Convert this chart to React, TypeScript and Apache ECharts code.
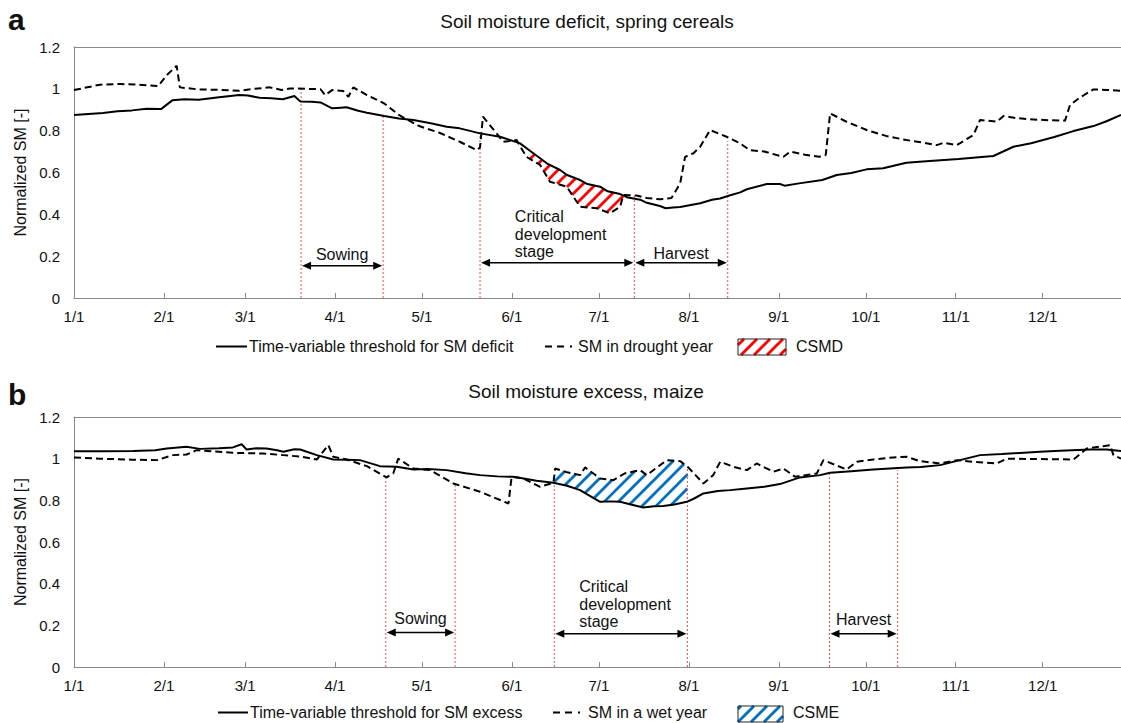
import React, { useEffect, useRef } from "react";
import * as echarts from "echarts";

const FONT = '"Liberation Sans", Arial, Helvetica, sans-serif';
const TEXT = "#111111";
const AXIS = "#8a8a8a";
const RED_DOT = "#ff4a4a";

const MONTH_DAYS = [0, 31, 59, 90, 120, 151, 181, 212, 243, 273, 304, 334];
const MONTH_LABELS = ["1/1", "2/1", "3/1", "4/1", "5/1", "6/1", "7/1", "8/1", "9/1", "10/1", "11/1", "12/1"];
const X_MAX = 361;
const Y_MAX = 1.2;
const Y_STEP = 0.2;

// ---------- Panel a: soil moisture deficit, spring cereals ----------
const THR_A_DAYS = [0, 5, 10, 15, 20, 25, 30, 34, 38, 43, 50, 57, 60, 64, 68, 72, 76, 78, 82, 85, 89, 92, 94, 98, 101, 107, 112, 117, 123, 128.5, 133, 140, 146.9, 151.5, 153.8, 157.2, 160.7, 163, 167.6, 170, 174.5, 177, 181.4, 184, 188.3, 190.6, 195.2, 197.5, 202, 204, 206.6, 209, 215.9, 220, 222.8, 226, 229.7, 232, 238.9, 243.4, 245, 250, 258, 263, 268, 273.3, 279, 287, 295, 305, 317, 323.9, 330, 338, 344.6, 351.5, 356, 361];
const THR_A_VALUES = [0.875, 0.88, 0.885, 0.893, 0.897, 0.905, 0.903, 0.946, 0.95, 0.948, 0.96, 0.97, 0.968, 0.957, 0.955, 0.95, 0.966, 0.94, 0.938, 0.935, 0.907, 0.91, 0.912, 0.895, 0.886, 0.87, 0.858, 0.851, 0.835, 0.819, 0.811, 0.787, 0.771, 0.75, 0.739, 0.704, 0.668, 0.644, 0.612, 0.588, 0.564, 0.545, 0.532, 0.51, 0.497, 0.482, 0.47, 0.455, 0.44, 0.429, 0.433, 0.435, 0.453, 0.47, 0.476, 0.49, 0.505, 0.52, 0.545, 0.545, 0.537, 0.548, 0.564, 0.588, 0.598, 0.615, 0.62, 0.647, 0.655, 0.665, 0.679, 0.723, 0.74, 0.77, 0.798, 0.822, 0.845, 0.875];
const SM_A_DAYS = [0, 9, 16, 22, 29, 32, 35.4, 36.5, 43, 50, 57, 62, 67.6, 71.6, 74.5, 80, 85, 86.6, 89, 92.8, 94.6, 96.3, 101, 107, 112, 119, 126, 133, 138.9, 140, 141, 145.7, 148, 152.6, 156, 160.7, 164.1, 169.9, 174.5, 180.2, 184.8, 188.3, 189.4, 194, 197.5, 202, 206, 209, 210.7, 213.6, 215.9, 219.3, 225, 229.7, 233, 238, 244.6, 247, 252, 257, 259.2, 260.7, 266, 273.3, 280, 287, 292, 297.5, 299.8, 304.4, 310.1, 312.4, 318.2, 320.5, 325, 329.7, 336, 341.7, 343.4, 347, 351.5, 356, 361];
const SM_A_VALUES = [0.994, 1.02, 1.023, 1.02, 1.013, 1.066, 1.11, 1.007, 0.997, 0.995, 0.991, 1.0, 1.007, 0.994, 1.002, 1.0, 0.998, 0.97, 0.994, 0.99, 0.962, 1.007, 0.97, 0.93, 0.875, 0.822, 0.79, 0.747, 0.707, 0.72, 0.867, 0.787, 0.747, 0.755, 0.675, 0.636, 0.556, 0.532, 0.436, 0.429, 0.405, 0.436, 0.492, 0.49, 0.478, 0.472, 0.478, 0.548, 0.675, 0.692, 0.723, 0.803, 0.771, 0.739, 0.707, 0.7, 0.675, 0.7, 0.685, 0.675, 0.684, 0.883, 0.845, 0.803, 0.775, 0.755, 0.745, 0.731, 0.742, 0.731, 0.779, 0.851, 0.843, 0.87, 0.86, 0.854, 0.85, 0.848, 0.922, 0.96, 0.997, 0.995, 0.991];
const STAGE_A_DAYS = [78.3, 106.6, 140, 193.2, 225.4];
const STAGE_A_TOPS = [1.0, 0.875, 0.8, 0.49, 0.75];
const ARROWS_A = [[78.3, 106.6, 0.154], [140, 193.2, 0.169], [193.2, 225.4, 0.169]];
const LABELS_A = ["Sowing", "Critical\ndevelopment\nstage", "Harvest"];
const LABEL_AT_A = [[92.45, 0.206], [152, 0.305], [209.3, 0.215]];
const LABEL_ALIGN_A = ["center", "left", "center"];
const HATCH_A = [157, 189.5];

// ---------- Panel b: soil moisture excess, maize ----------
const THR_B_DAYS = [0, 10, 20.4, 28, 32, 38.8, 43.4, 50, 54.8, 57.8, 59.5, 63, 66.4, 70, 72.2, 76, 78, 83.7, 89.4, 94, 98.6, 105.5, 111.3, 117, 122, 128.5, 135, 140, 146, 151.5, 155, 159.5, 165.3, 170, 174.5, 178, 181.4, 185, 188.3, 192, 196.3, 200, 203.2, 207, 211.3, 214, 217, 222, 226.2, 232, 238, 243.4, 250.3, 257.2, 260.7, 268, 275.6, 287.1, 292, 298.6, 305.5, 312.4, 320, 333, 340, 350.3, 356, 361];
const THR_B_VALUES = [1.036, 1.036, 1.037, 1.04, 1.049, 1.057, 1.047, 1.05, 1.054, 1.069, 1.044, 1.05, 1.049, 1.04, 1.033, 1.045, 1.044, 1.017, 0.996, 0.995, 0.993, 0.964, 0.961, 0.948, 0.95, 0.945, 0.93, 0.921, 0.915, 0.913, 0.905, 0.894, 0.884, 0.87, 0.849, 0.82, 0.793, 0.795, 0.793, 0.78, 0.766, 0.772, 0.773, 0.78, 0.793, 0.81, 0.833, 0.845, 0.849, 0.857, 0.865, 0.878, 0.91, 0.921, 0.932, 0.94, 0.948, 0.958, 0.96, 0.969, 0.993, 1.017, 1.022, 1.033, 1.038, 1.044, 1.044, 1.037];
const SM_B_DAYS = [0, 9, 20, 28.5, 34.2, 38.8, 42.3, 48, 54.9, 65, 72.2, 78, 83.7, 87.7, 89.4, 94, 101, 107.8, 110.1, 111.8, 117, 122.8, 130.8, 140, 149.8, 150.9, 154.9, 160.7, 165.3, 165.9, 170, 174.5, 176.2, 181.4, 186, 190, 195.2, 197.5, 204.4, 209, 211.8, 217, 220.4, 222.8, 227.4, 232, 235.4, 241.1, 244.6, 248.6, 256.1, 258.4, 266.4, 269.9, 275.6, 282.5, 287.1, 291.7, 298.6, 304.4, 310.1, 318.2, 321.6, 333, 344.6, 349.2, 357.2, 358.4, 361];
const SM_B_VALUES = [1.006, 1.0, 0.995, 0.993, 1.017, 1.02, 1.041, 1.035, 1.028, 1.025, 1.017, 1.01, 0.996, 1.065, 1.009, 0.996, 0.964, 0.91, 0.93, 1.0, 0.953, 0.945, 0.881, 0.841, 0.785, 0.913, 0.905, 0.865, 0.884, 0.953, 0.935, 0.921, 0.958, 0.905, 0.897, 0.93, 0.945, 0.921, 0.993, 0.988, 0.958, 0.881, 0.921, 0.985, 0.961, 0.945, 0.977, 0.937, 0.953, 0.913, 0.929, 0.993, 0.948, 0.985, 0.996, 1.006, 1.009, 0.988, 0.977, 0.993, 0.985, 0.977, 1.0, 0.998, 0.996, 1.049, 1.065, 1.017, 1.0];
const STAGE_B_DAYS = [107.5, 131.4, 165.6, 211.5, 260.5, 284];
const STAGE_B_TOPS = [0.91, 0.88, 0.889, 0.961, 0.937, 0.945];
const ARROWS_B = [[107.5, 131.4, 0.166], [165.6, 211.5, 0.16], [260.5, 284, 0.16]];
const LABELS_B = ["Sowing", "Critical\ndevelopment\nstage", "Harvest"];
const LABEL_AT_B = [[119.45, 0.235], [174.2, 0.302], [272.25, 0.23]];
const LABEL_ALIGN_B = ["center", "left", "center"];
const HATCH_B = [165.6, 211.5];

// ---------- helpers ----------
function interp(days: number[], vals: number[], d: number): number {
  if (d <= days[0]) return vals[0];
  for (let i = 1; i < days.length; i++) {
    if (d <= days[i]) {
      const t = (d - days[i - 1]) / (days[i] - days[i - 1]);
      return vals[i - 1] + t * (vals[i] - vals[i - 1]);
    }
  }
  return vals[vals.length - 1];
}

// diagonal "/" stripes (x + y = c) clipped to a polygon
function hatchSegments(poly: number[][], spacing: number, offset = 0): number[][][] {
  let minC = Infinity;
  let maxC = -Infinity;
  poly.forEach(([x, y]) => {
    minC = Math.min(minC, x + y);
    maxC = Math.max(maxC, x + y);
  });
  const segs: number[][][] = [];
  const c0 = Math.ceil((minC - offset) / spacing) * spacing + offset;
  for (let c = c0; c <= maxC; c += spacing) {
    const hits: number[][] = [];
    for (let i = 0; i < poly.length; i++) {
      const p = poly[i];
      const q = poly[(i + 1) % poly.length];
      const f1 = p[0] + p[1] - c;
      const f2 = q[0] + q[1] - c;
      if (f1 < 0 !== f2 < 0) {
        const t = f1 / (f1 - f2);
        hits.push([p[0] + t * (q[0] - p[0]), p[1] + t * (q[1] - p[1])]);
      }
    }
    hits.sort((a, b) => a[0] - b[0]);
    for (let k = 0; k + 1 < hits.length; k += 2) segs.push([hits[k], hits[k + 1]]);
  }
  return segs;
}

function stripeLines(segs: number[][][], color: string, width: number) {
  return segs.map(([a, b]) => ({
    type: "line",
    silent: true,
    shape: { x1: a[0], y1: a[1], x2: b[0], y2: b[1] },
    style: { stroke: color, lineWidth: width, lineCap: "butt" },
  }));
}

function hatchSeries(g: number, uD: number[], uV: number[], lD: number[], lV: number[], range: number[], color: string, spacing: number) {
  return {
    type: "custom",
    xAxisIndex: g * 2,
    yAxisIndex: g,
    z: 1,
    silent: true,
    data: [[range[0], 0]],
    renderItem: (_p: any, api: any) => {
      const [d0, d1] = range;
      const pts: number[][] = [];
      const add = (d: number, v: number) => pts.push(api.coord([d, v]));
      add(d0, interp(uD, uV, d0));
      uD.forEach((d, i) => { if (d > d0 && d < d1) add(d, uV[i]); });
      add(d1, interp(uD, uV, d1));
      add(d1, interp(lD, lV, d1));
      for (let i = lD.length - 1; i >= 0; i--) if (lD[i] > d0 && lD[i] < d1) add(lD[i], lV[i]);
      add(d0, interp(lD, lV, d0));
      return { type: "group", children: stripeLines(hatchSegments(pts, spacing), color, 2.8) };
    },
  };
}

function lineSeries(g: number, days: number[], vals: number[], dashed: boolean) {
  return {
    type: "line",
    xAxisIndex: g * 2,
    yAxisIndex: g,
    z: 3,
    silent: true,
    symbol: "none",
    showSymbol: false,
    data: days.map((d, i) => [d, vals[i]]),
    lineStyle: { color: "#000", width: 2, type: dashed ? [7, 4] : "solid" },
  };
}

function stageLineSeries(g: number, days: number[], tops: number[]) {
  return {
    type: "custom",
    xAxisIndex: g * 2,
    yAxisIndex: g,
    z: 2,
    silent: true,
    data: days.map((d, i) => [d, tops[i]]),
    renderItem: (_p: any, api: any) => {
      const a = api.coord([api.value(0), 0]);
      const b = api.coord([api.value(0), api.value(1)]);
      return {
        type: "line",
        shape: { x1: a[0], y1: a[1], x2: b[0], y2: b[1] },
        style: { stroke: RED_DOT, lineWidth: 1, lineDash: [2, 2] },
      };
    },
  };
}

function arrowSeries(g: number, arrows: number[][]) {
  return {
    type: "custom",
    xAxisIndex: g * 2,
    yAxisIndex: g,
    z: 4,
    silent: true,
    data: arrows,
    encode: { x: [0, 1], y: 2 },
    renderItem: (_p: any, api: any) => {
      const a = api.coord([api.value(0), api.value(2)]);
      const b = api.coord([api.value(1), api.value(2)]);
      const L = 9;
      const H = 4;
      return {
        type: "group",
        children: [
          { type: "line", shape: { x1: a[0] + L - 1, y1: a[1], x2: b[0] - L + 1, y2: b[1] }, style: { stroke: "#000", lineWidth: 1.5 } },
          { type: "polygon", shape: { points: [[a[0] + 1, a[1]], [a[0] + 1 + L, a[1] - H], [a[0] + 1 + L, a[1] + H]] }, style: { fill: "#000" } },
          { type: "polygon", shape: { points: [[b[0] - 1, b[1]], [b[0] - 1 - L, b[1] - H], [b[0] - 1 - L, b[1] + H]] }, style: { fill: "#000" } },
        ],
      };
    },
  };
}

function labelSeries(g: number, at: number[][], labels: string[], aligns: string[]) {
  return {
    type: "custom",
    xAxisIndex: g * 2,
    yAxisIndex: g,
    z: 5,
    silent: true,
    data: at,
    renderItem: (p: any, api: any) => {
      const c = api.coord([api.value(0), api.value(1)]);
      const i = p.dataIndex;
      return {
        type: "text",
        x: c[0],
        y: c[1],
        style: {
          text: labels[i],
          fill: TEXT,
          font: `16px ${FONT}`,
          lineHeight: 17.5,
          align: aligns[i],
          textAlign: aligns[i],
          verticalAlign: "middle",
          textVerticalAlign: "middle",
        },
      };
    },
  };
}

function xAxes(g: number) {
  return [
    {
      type: "value",
      gridIndex: g,
      min: 0,
      max: X_MAX,
      position: "bottom",
      axisLine: { show: true, onZero: false, lineStyle: { color: AXIS, width: 1 } },
      axisTick: { show: true, inside: true, length: 5, customValues: MONTH_DAYS, lineStyle: { color: AXIS } },
      axisLabel: {
        customValues: MONTH_DAYS,
        formatter: (v: number) => {
          const k = MONTH_DAYS.indexOf(Math.round(v));
          return k >= 0 ? MONTH_LABELS[k] : "";
        },
        fontSize: 15,
        fontFamily: FONT,
        color: TEXT,
        margin: 11,
      },
      splitLine: { show: false },
    },
    {
      type: "value",
      gridIndex: g,
      min: 0,
      max: X_MAX,
      position: "top",
      axisLine: { show: true, onZero: false, lineStyle: { color: AXIS, width: 1 } },
      axisTick: { show: false },
      axisLabel: { show: false },
      splitLine: { show: false },
    },
  ];
}

function yAxis(g: number) {
  return {
    type: "value",
    gridIndex: g,
    min: 0,
    max: Y_MAX,
    interval: Y_STEP,
    axisLine: { show: true, lineStyle: { color: AXIS, width: 1 } },
    axisTick: { show: false },
    axisLabel: { fontSize: 15, fontFamily: FONT, color: TEXT, margin: 14 },
    splitLine: { show: false },
    name: "Normalized SM [-]",
    nameLocation: "middle",
    nameGap: 45,
    nameRotate: 90,
    nameTextStyle: { fontSize: 16, fontFamily: FONT, color: TEXT },
  };
}

function txt(x: number, y: number, text: string, size: number, align = "left", bold = false) {
  return {
    type: "text",
    x,
    y,
    silent: true,
    style: {
      text,
      fill: TEXT,
      font: `${bold ? "bold " : ""}${size}px ${FONT}`,
      align,
      textAlign: align,
      verticalAlign: "middle",
      textVerticalAlign: "middle",
    },
  };
}

function legendRow(y: number, sx0: number, sx1: number, sText: string, dx0: number, dx1: number, dText: string, box: number[], color: string, bText: string) {
  const [bx, by, bw, bh] = box;
  const boxPoly = [[bx, by], [bx + bw, by], [bx + bw, by + bh], [bx, by + bh]];
  return [
    { type: "line", silent: true, shape: { x1: sx0, y1: y, x2: sx1, y2: y }, style: { stroke: "#000", lineWidth: 2 } },
    txt(sx1 + 2, y, sText, 16),
    { type: "line", silent: true, shape: { x1: dx0, y1: y, x2: dx1, y2: y }, style: { stroke: "#000", lineWidth: 2, lineDash: [7, 5, 7, 6, 2, 40] } },
    txt(dx1 + 3, y, dText, 16),
    { type: "rect", silent: true, shape: { x: bx, y: by, width: bw, height: bh }, style: { fill: "#fff", stroke: "none" } },
    ...stripeLines(hatchSegments(boxPoly, 13, 4), color, 2.8),
    { type: "rect", silent: true, shape: { x: bx, y: by, width: bw, height: bh }, style: { fill: "none", stroke: "#222", lineWidth: 1 } },
    txt(bx + bw + 10, y, bText, 16),
  ];
}

export default function App() {
  const ref = useRef<HTMLDivElement>(null);

  useEffect(() => {
    if (!ref.current) return;
    const chart = echarts.init(ref.current, undefined, { renderer: "svg" });
    const option: any = {
      animation: false,
      backgroundColor: "#ffffff",
      textStyle: { fontFamily: FONT },
      grid: [
        { left: 74, top: 47, right: 0, height: 251, containLabel: false },
        { left: 74, top: 417, right: 0, height: 250, containLabel: false },
      ],
      xAxis: [...xAxes(0), ...xAxes(1)],
      yAxis: [yAxis(0), yAxis(1)],
      series: [
        hatchSeries(0, THR_A_DAYS, THR_A_VALUES, SM_A_DAYS, SM_A_VALUES, HATCH_A, "#ff0000", 13),
        stageLineSeries(0, STAGE_A_DAYS, STAGE_A_TOPS),
        lineSeries(0, THR_A_DAYS, THR_A_VALUES, false),
        lineSeries(0, SM_A_DAYS, SM_A_VALUES, true),
        arrowSeries(0, ARROWS_A),
        labelSeries(0, LABEL_AT_A, LABELS_A, LABEL_ALIGN_A),

        hatchSeries(1, SM_B_DAYS, SM_B_VALUES, THR_B_DAYS, THR_B_VALUES, HATCH_B, "#0070c0", 14),
        stageLineSeries(1, STAGE_B_DAYS, STAGE_B_TOPS),
        lineSeries(1, THR_B_DAYS, THR_B_VALUES, false),
        lineSeries(1, SM_B_DAYS, SM_B_VALUES, true),
        arrowSeries(1, ARROWS_B),
        labelSeries(1, LABEL_AT_B, LABELS_B, LABEL_ALIGN_B),
      ],
      graphic: [
        txt(8, 19.5, "a", 30, "left", true),
        txt(8, 394, "b", 30, "left", true),
        txt(587, 21, "Soil moisture deficit, spring cereals", 19, "center"),
        txt(586, 391, "Soil moisture excess, maize", 19, "center"),
        ...legendRow(346.5, 216, 247, "Time-variable threshold for SM deficit", 545, 575, "SM in drought year", [738, 339, 48, 16], "#ff0000", "CSMD"),
        ...legendRow(712.5, 218, 248, "Time-variable threshold for SM excess", 553, 585, "SM in a wet year", [738, 706, 45, 16], "#0070c0", "CSME"),
      ],
    };
    chart.setOption(option);
    return () => chart.dispose();
  }, []);

  return (
    <div
      ref={ref}
      style={{ position: "absolute", left: 0, top: 0, width: 1121, height: 723, background: "#fff" }}
    />
  );
}
